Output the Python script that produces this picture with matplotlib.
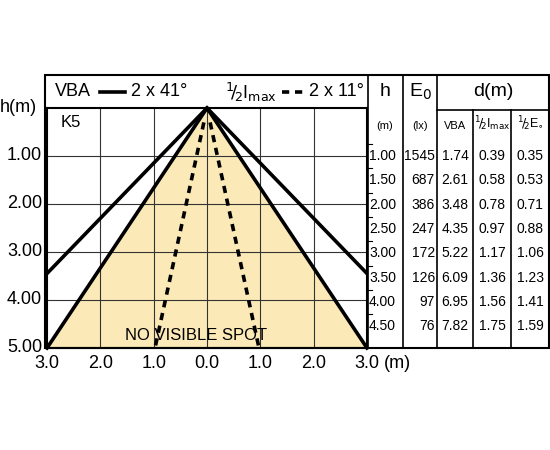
import matplotlib
matplotlib.use("Agg")
import matplotlib.pyplot as plt

plt.rcParams["font.family"] = ["Liberation Sans", "DejaVu Sans"]

# Data
heights = ["1.00", "1.50", "2.00", "2.50", "3.00", "3.50", "4.00", "4.50"]
e0 = [1545, 687, 386, 247, 172, 126, 97, 76]
d_vba = [1.74, 2.61, 3.48, 4.35, 5.22, 6.09, 6.95, 7.82]
d_half_imax = [0.39, 0.58, 0.78, 0.97, 1.17, 1.36, 1.56, 1.75]
d_half_e = [0.35, 0.53, 0.71, 0.88, 1.06, 1.23, 1.41, 1.59]
y_ticks = [1, 2, 3, 4, 5]
y_labels = ["1.00", "2.00", "3.00", "4.00", "5.00"]
x_ticks = [-3, -2, -1, 0, 1, 2, 3]
x_labels = ["3.0", "2.0", "1.0", "0.0", "1.0", "2.0", "3.0"]
fill_half = 3.0      # filled cone half-width at h=5
vba_slope = 0.87     # VBA half-width per metre
spot_slope = 0.195   # 1/2 Imax half-width per metre

W, H = 550, 450
fig = plt.figure(figsize=(5.5, 4.5), dpi=100)
L, R, T, B = 47, 367, 108, 348
ax = fig.add_axes([L / W, 1 - B / H, (R - L) / W, (B - T) / H])
ax.set_xlim(-3, 3)
ax.set_ylim(5, 0)
ax.fill([0, -fill_half, fill_half], [0, 5, 5], color="#fbe9b7", zorder=0)
for x in x_ticks[1:-1]:
    ax.axvline(x, color="#333333", lw=0.8, zorder=1)
for y in y_ticks[:-1]:
    ax.axhline(y, color="#333333", lw=0.8, zorder=1)
for s in (-1, 1):
    ax.plot([0, s * fill_half], [0, 5], color="k", lw=2.6, zorder=3, clip_on=False)
    ax.plot([0, s * vba_slope * 5], [0, 5], color="k", lw=2.6, zorder=3)
    ax.plot([s * spot_slope * 0.3, s * spot_slope * 5], [0.3, 5], color="k", lw=2.6,
            ls=(0, (2, 1.6)), zorder=3)
ax.set_xticks([])
ax.set_yticks([])
for sp in ax.spines.values():
    sp.set_linewidth(1.5)
ax.text(-2.75, 0.3, "K5", fontsize=12, va="center")
ax.text(-0.2, 4.75, "NO VISIBLE SPOT", fontsize=12, ha="center", va="center")

# overlay in pixel coordinates
ov = fig.add_axes([0, 0, 1, 1])
ov.set_xlim(0, W)
ov.set_ylim(H, 0)
ov.axis("off")
ov.add_patch(plt.Rectangle((45, 75), 504, 273, fill=False, lw=1.5))
for y, lab in zip(y_ticks, y_labels):
    ov.text(42, T + y * (B - T) / 5, lab, fontsize=13, ha="right", va="center")
ov.text(0, T, "h(m)", fontsize=13, va="center")
for x, lab in zip(x_ticks, x_labels):
    ov.text(L + (x + 3) * (R - L) / 6, 363, lab, fontsize=13, ha="center", va="center")
ov.text(384, 363, "(m)", fontsize=13, va="center")

# header legend
ov.text(55, 92, "VBA", fontsize=13, va="center")
ov.plot([100, 125], [92, 92], color="k", lw=2.6)
ov.text(131, 92, "2 x 41°", fontsize=13, va="center")
ov.text(225, 92, r"$^{1}\!/\!_{2}$I$_{\mathrm{max}}$", fontsize=13, va="center")
ov.plot([282, 306], [92, 92], color="k", lw=2.6, ls=(0, (2, 1.6)))
ov.text(309, 92, "2 x 11°", fontsize=13, va="center")

# table
cols = [368, 403, 437, 473, 511, 549]
for i, x in enumerate(cols[:-1]):
    top = 75 if i < 3 else 110
    ov.plot([x, x], [top, 348], color="k", lw=1.2)
ov.plot([cols[2], 549], [110, 110], color="k", lw=1.2)
ov.text(385, 92, "h", fontsize=14, ha="center", va="center")
ov.text(420, 92, r"E$_0$", fontsize=14, ha="center", va="center")
ov.text(493, 92, "d(m)", fontsize=14, ha="center", va="center")
ov.text(385, 126, "(m)", fontsize=8, ha="center", va="center")
ov.text(420, 126, "(lx)", fontsize=8, ha="center", va="center")
ov.text(455, 126, "VBA", fontsize=8, ha="center", va="center")
ov.text(492, 124, r"$^{1}\!/\!_{2}$I$_{\mathrm{max}}$", fontsize=9, ha="center", va="center")
ov.text(530, 124, r"$^{1}\!/\!_{2}$E$_{\circ}$", fontsize=9, ha="center", va="center")
for i, h in enumerate(heights):
    y = 156 + i * 24.3
    ov.plot([368, 372], [y - 12, y - 12], color="k", lw=0.8)
    ov.text(369, y, h, fontsize=10, va="center")
    ov.text(435, y, str(e0[i]), fontsize=10, ha="right", va="center")
    ov.text(455, y, f"{d_vba[i]:.2f}", fontsize=10, ha="center", va="center")
    ov.text(492, y, f"{d_half_imax[i]:.2f}", fontsize=10, ha="center", va="center")
    ov.text(530, y, f"{d_half_e[i]:.2f}", fontsize=10, ha="center", va="center")

fig.savefig("out.png", dpi=100)
